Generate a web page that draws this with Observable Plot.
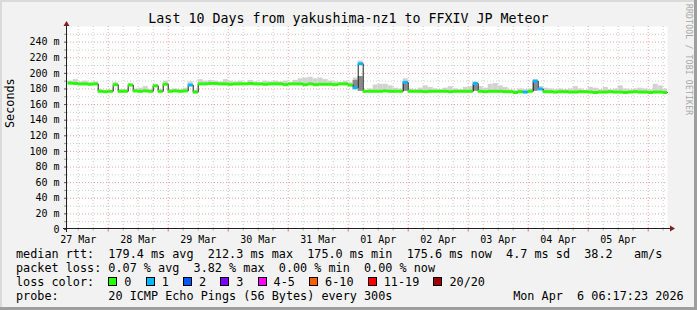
<!DOCTYPE html>
<html>
<head>
<meta charset="utf-8">
<script src="https://cdn.jsdelivr.net/npm/d3@7"></script>
<script src="https://cdn.jsdelivr.net/npm/@observablehq/plot@0.6"></script>
<style>
  html, body { margin: 0; padding: 0; background: #ffffff; }
  #wrap { position: relative; width: 697px; height: 310px; background: #f2f2f2; overflow: hidden; }
  #wrap svg { position: absolute; left: 0; top: 0; }
  .mono { font-family: "DejaVu Sans Mono", monospace; color: #000; }
  #title { position: absolute; left: 0; top: 11.3px; width: 697px; text-align: center; font-size: 13.3px; line-height: 16px; white-space: pre; }
  #legend { position: absolute; left: 16px; top: 247.2px; font-size: 11.8px; line-height: 14px; white-space: pre; }
  .sw { display: inline-block; width: 7px; height: 7px; border: 1px solid #000; margin-right: 7px; vertical-align: baseline; }
  #brand { position: absolute; left: 682.7px; top: 3.7px; writing-mode: vertical-rl; font-size: 8px; line-height: 10px; letter-spacing: 0.24px; color: #a6a6a6; white-space: pre; }
  .edge { position: absolute; }
</style>
</head>
<body>
<div id="wrap">
  <div class="edge" style="left:0;top:0;width:697px;height:2px;background:#dadada"></div>
  <div class="edge" style="left:0;top:0;width:2px;height:310px;background:#dadada"></div>
  <div class="edge" style="left:694px;top:0;width:3px;height:310px;background:#9e9e9e"></div>
  <div class="edge" style="left:0;top:307px;width:697px;height:3px;background:#9e9e9e"></div>
  <div id="title" class="mono"></div>
  <div id="brand" class="mono"></div>
  <div id="legend" class="mono"></div>
</div>
<script>
// ---------------- data ----------------
const titleText = "Last 10 Days from yakushima-nz1 to FFXIV JP Meteor";
const brandText = "RRDTOOL / TOBI OETIKER";
const yAxisLabel = "Seconds";

// 2-hour bins starting 2026-03-27 08:00 (UTC used as display time)
const firstBinUTC = [2026, 2, 27, 8];
const binHours = 2;

// median RTT per bin (ms)
const median = [
  187.5, 187, 186.5, 186.5, 186, 186.5, 177, 176.5, 177, 185.5,
  177, 177, 185, 177.5, 177, 177.5, 177, 184, 177, 186,
  177, 177.5, 177, 177.5, 185, 176, 186.5, 186.5, 187, 187,
  186.5, 186.5, 186, 186.5, 186.5, 186.5, 187, 186.5, 186.5, 186,
  186.5, 186.5, 186.5, 185.5, 186.5, 186.5, 186.5, 185.5, 186.5, 185.5,
  186, 186, 186, 185.5, 186.5, 186.5, 185, 181.5, 212.3, 177,
  177, 177, 177, 177.5, 177, 177, 177, 188.5, 177, 177,
  177, 176.5, 177, 177, 177, 177, 176.5, 177, 177, 177,
  177, 187, 177, 176.5, 177, 177, 177, 176.5, 176.5, 175.5,
  176.5, 176, 177, 190, 180, 176.5, 176.5, 176, 176.5, 176.5,
  176, 176, 176.5, 176.5, 176, 175.5, 176, 176, 176.5, 176,
  176, 175.5, 176, 176.5, 176, 176, 175.5, 176, 176, 175.5
];

// packet-loss class per bin (index into lossColors)
const loss = [
  0, 0, 0, 0, 0, 0, 0, 0, 0, 0,
  0, 0, 0, 0, 0, 0, 0, 0, 0, 0,
  0, 0, 0, 0, 1, 0, 0, 0, 0, 0,
  0, 0, 0, 0, 0, 0, 0, 0, 0, 0,
  0, 0, 0, 0, 0, 0, 0, 0, 0, 0,
  0, 0, 0, 0, 0, 0, 0, 1, 1, 0,
  0, 0, 0, 0, 0, 0, 0, 1, 0, 0,
  0, 0, 0, 0, 0, 0, 0, 0, 0, 0,
  0, 1, 0, 0, 0, 0, 0, 0, 0, 0,
  0, 1, 0, 1, 1, 0, 0, 0, 0, 0,
  0, 0, 0, 0, 0, 0, 0, 0, 0, 0,
  0, 0, 0, 0, 0, 0, 0, 0, 0, 0
];

// top of the light smoke per bin (ms)
const smokeHi = [
  190, 192, 189, 190, 188, 189, 179, 178, 178, 188,
  179, 179, 187, 180, 181, 183, 179, 186, 179, 190,
  179, 180, 179, 181, 189, 178, 192, 190, 191, 190,
  189, 192, 190, 189, 190, 188, 191, 189, 188, 190,
  189, 190, 189, 190, 188, 191, 193, 194, 195, 193,
  194, 192, 190, 189, 188, 190, 188, 194, 216, 178,
  180, 185, 186, 186, 184, 181, 180, 193, 180, 179,
  181, 184, 182, 180, 179, 181, 183, 180, 179, 182,
  183, 189, 183, 181, 186, 187, 184, 182, 179, 178,
  180, 179, 180, 192, 183, 181, 180, 179, 180, 179,
  180, 183, 180, 178, 182, 181, 179, 182, 179, 180,
  184, 180, 179, 180, 181, 180, 179, 186, 184, 180
];

// darker smoke around the spikes
const darkBins = [57, 58, 67, 81, 93];
const darkLo   = [181.5, 177, 177, 177, 177];
const darkTop  = [191, 196, 189, 185, 189];

// axis ticks
const yTicks = [0, 20, 40, 60, 80, 100, 120, 140, 160, 180, 200, 220, 240];
const xTickLabels = ["27 Mar", "28 Mar", "29 Mar", "30 Mar", "31 Mar", "01 Apr", "02 Apr", "03 Apr", "04 Apr", "05 Apr"];

// legend
const rttStats = [["179.4", "ms avg"], ["212.3", "ms max"], ["175.0", "ms min"], ["175.6", "ms now"], ["4.7", "ms sd"]];
const amsValue = "38.2";
const lossStats = [["0.07", "% avg"], ["3.82", "% max"], ["0.00", "% min"], ["0.00", "% now"]];
const lossLabels = ["0", "1", "2", "3", "4-5", "6-10", "11-19", "20/20"];
const lossColors = ["#26ff00", "#00b8ff", "#0059ff", "#7e00ff", "#ff00ff", "#ff5e00", "#ff0000", "#a10000"];
const probeText = "20 ICMP Echo Pings (56 Bytes) every 300s";
const dateText = "Mon Apr  6 06:17:23 2026";

// ---------------- build ----------------
const H = 3600e3;
const xStart = new Date(Date.UTC(2026, 2, 27, 7, 43));
const xEnd = new Date(Date.UTC(2026, 3, 6, 7, 43));
const base = Date.UTC(...firstBinUTC);

const bins = median.map((m, i) => ({
  t0: new Date(base + i * binHours * H),
  t1: new Date(Math.min(base + (i + 1) * binHours * H, +xEnd)),
  median: m,
  loss: loss[i],
  hi: smokeHi[i]
}));
const linePts = bins.map(b => ({t: b.t0, v: b.median}));
linePts.push({t: bins[bins.length - 1].t1, v: bins[bins.length - 1].median});

const dark = darkBins.map((bi, k) => ({t0: bins[bi].t0, t1: bins[bi].t1, lo: darkLo[k], hi: darkTop[k]}));

const xTicks = xTickLabels.map((_, i) => new Date(Date.UTC(2026, 2, 27 + i, 12)));
const labelOf = new Map(xTicks.map((d, i) => [+d, xTickLabels[i]]));

const yMajor = d3.range(20, 260, 20);
const yMinor = d3.range(10, 260, 20);
const dayLines = d3.utcDay.range(xStart, xEnd);
const sixHour = d3.utcHour.every(6).range(xStart, xEnd).filter(d => d.getUTCHours() !== 0);

const gridGray = "#cdcdcd";
const gridRed = "#eea2a2";

const chart = Plot.plot({
  width: 697,
  height: 246,
  marginLeft: 67,
  marginRight: 30,
  marginTop: 26,
  marginBottom: 17,
  style: {fontFamily: "'DejaVu Sans Mono', monospace", fontSize: "10px", background: "transparent", color: "#000", overflow: "visible"},
  x: {type: "utc", domain: [xStart, xEnd], ticks: xTicks, tickFormat: d => labelOf.get(+d), tickSize: 0, tickPadding: 6, label: null},
  y: {domain: [0, 260], ticks: yTicks, tickFormat: d => d === 0 ? "0" : `${d} m`, tickSize: 0, tickPadding: 8, label: null},
  color: {type: "identity"},
  marks: [
    Plot.frame({fill: "white", stroke: "none"}),
    Plot.ruleY(yMinor, {stroke: gridGray, strokeDasharray: "1,2"}),
    Plot.ruleX(sixHour, {stroke: gridGray, strokeDasharray: "1,2"}),
    Plot.ruleY(yMajor, {stroke: gridRed, strokeDasharray: "1,2"}),
    Plot.ruleX(dayLines, {stroke: gridRed, strokeDasharray: "1,2"}),
    Plot.rect(bins, {x1: "t0", x2: "t1", y1: "median", y2: "hi", fill: "#d2d2d2"}),
    Plot.rect(dark, {x1: "t0", x2: "t1", y1: "lo", y2: "hi", fill: "#8a8a8a"}),
    Plot.line(linePts, {x: "t", y: "v", curve: "step-after", stroke: "#202020", strokeWidth: 1}),
    Plot.ruleY(bins, {y: "median", x1: "t0", x2: "t1", stroke: d => lossColors[d.loss], strokeWidth: 3}),
    Plot.text([yAxisLabel], {text: d => d, frameAnchor: "left", dx: -57, rotate: -90, fontSize: 11.8})
  ]
});

// axis lines, arrows and small ticks drawn from the plot's scales
const xs = chart.scale("x"), ys = chart.scale("y");
const [xL, xR] = xs.range;
const [yB, yT] = ys.range;
const svg = d3.select(chart);
const g = svg.append("g");
const axisColor = "#1f1f1f", arrowColor = "#7f1f1f";
d3.range(0, 260, 10).forEach(v => {
  const yy = ys.apply(v) + 0.5;
  g.append("line").attr("x1", xL - 3).attr("x2", xL).attr("y1", yy).attr("y2", yy)
    .attr("stroke", v % 20 === 0 ? "#555" : "#999").attr("stroke-width", 1);
});
sixHour.forEach(d => {
  const xx = xs.apply(d) + 0.5;
  g.append("line").attr("x1", xx).attr("x2", xx).attr("y1", yB - 0.5).attr("y2", yB + 1.5).attr("stroke", "#aaa");
});
dayLines.forEach(d => {
  const xx = xs.apply(d) + 0.5;
  g.append("line").attr("x1", xx).attr("x2", xx).attr("y1", yB - 0.5).attr("y2", yB + 2.5).attr("stroke", "#e07070");
});
g.append("line").attr("x1", xL - 4).attr("x2", xR + 4).attr("y1", yB - 0.5).attr("y2", yB - 0.5).attr("stroke", axisColor);
g.append("line").attr("x1", xL - 0.5).attr("x2", xL - 0.5).attr("y1", yB + 3).attr("y2", yT).attr("stroke", axisColor);
g.append("path").attr("d", `M${xR + 3},${yB - 3.5}L${xR + 8},${yB - 0.5}L${xR + 3},${yB + 2.5}Z`).attr("fill", arrowColor);
g.append("path").attr("d", `M${xL - 3.5},${yT}L${xL - 0.5},${yT - 5}L${xL + 2.5},${yT}Z`).attr("fill", arrowColor);

document.getElementById("wrap").appendChild(chart);

document.getElementById("title").textContent = titleText;
document.getElementById("brand").textContent = brandText;

const leg = document.getElementById("legend");
const row1 = "median rtt:  " + rttStats.map(s => s.join(" ")).join("  ") + "  " + amsValue + "   am/s";
const row2 = "packet loss: " + lossStats.map(s => s.join(" ")).join("  ");
const r1 = document.createElement("div"); r1.textContent = row1; leg.appendChild(r1);
const r2 = document.createElement("div"); r2.textContent = row2; leg.appendChild(r2);
const r3 = document.createElement("div");
r3.appendChild(document.createTextNode("loss color:  "));
lossLabels.forEach((lab, i) => {
  const sw = document.createElement("span");
  sw.className = "sw";
  sw.style.background = lossColors[i];
  r3.appendChild(sw);
  r3.appendChild(document.createTextNode(lab + (i < lossLabels.length - 1 ? "  " : "")));
});
leg.appendChild(r3);
const r4 = document.createElement("div");
r4.textContent = ("probe:".padEnd(13) + probeText).padEnd(70) + dateText;
leg.appendChild(r4);
</script>
</body>
</html>
